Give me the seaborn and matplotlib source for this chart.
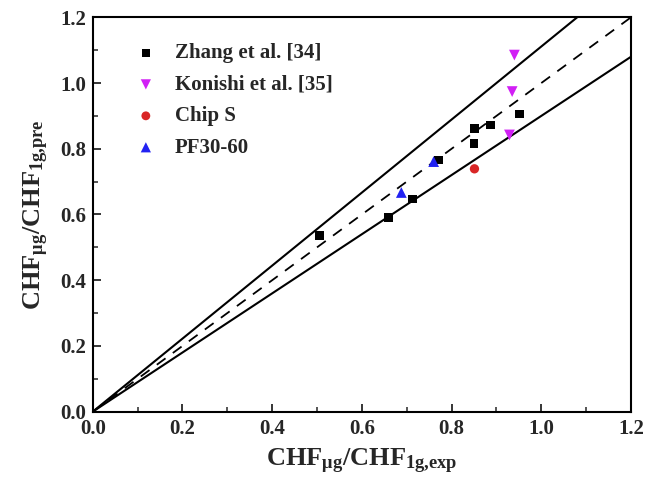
import numpy as np
import pandas as pd
import matplotlib
matplotlib.use("Agg")
import matplotlib.pyplot as plt
from matplotlib.ticker import MultipleLocator
import seaborn as sns

# Data
zhang_x = [0.506, 0.659, 0.713, 0.771, 0.850, 0.851, 0.886, 0.951]
zhang_y = [0.537, 0.590, 0.647, 0.766, 0.815, 0.862, 0.872, 0.906]
konishi_x = [0.940, 0.935, 0.929]
konishi_y = [1.085, 0.974, 0.842]
chip_x = [0.851]
chip_y = [0.739]
pf_x = [0.760, 0.688]
pf_y = [0.761, 0.667]
series_names = ["Zhang et al. [34]", "Konishi et al. [35]", "Chip S", "PF30-60"]

df = pd.DataFrame({
    "x": zhang_x + konishi_x + chip_x + pf_x,
    "y": zhang_y + konishi_y + chip_y + pf_y,
    "series": [series_names[0]] * len(zhang_x) + [series_names[1]] * len(konishi_x)
              + [series_names[2]] * len(chip_x) + [series_names[3]] * len(pf_x),
})

sns.set_theme(style="white")
plt.rcParams['font.family'] = ['Liberation Serif', 'DejaVu Serif']
plt.rcParams['font.weight'] = 'bold'
plt.rcParams['mathtext.fontset'] = 'custom'
plt.rcParams['mathtext.rm'] = 'Liberation Serif:bold'
plt.rcParams['mathtext.it'] = 'Liberation Serif:bold'
plt.rcParams['mathtext.bf'] = 'Liberation Serif:bold'

fig = plt.figure(figsize=(6.47, 4.9), dpi=100)
ax = fig.add_axes([0.1433, 0.1598, 0.8320, 0.8049])

# reference lines
lx = np.array([0.0, 1.2])
ax.plot(lx, lx / 0.9, color='black', lw=1.5, zorder=1)
ax.plot(lx, lx * 0.9, color='black', lw=1.5, zorder=1)
ax.plot(lx, lx, color='black', lw=1.3, ls=(0, (6, 5)), zorder=1)

palette = {series_names[0]: 'black', series_names[1]: '#D11FF5',
           series_names[2]: '#D92626', series_names[3]: '#2222F2'}
markers = {series_names[0]: 's', series_names[1]: 'v',
           series_names[2]: 'o', series_names[3]: '^'}
sizes = {series_names[0]: 40, series_names[1]: 60, series_names[2]: 45, series_names[3]: 60}
for name in series_names:
    sub = df[df["series"] == name]
    sns.scatterplot(data=sub, x="x", y="y", color=palette[name], marker=markers[name],
                    s=sizes[name], edgecolor='none', label=name, ax=ax, zorder=3)

ax.set_xlim(0, 1.2)
ax.set_ylim(0, 1.2)
ax.xaxis.set_major_locator(MultipleLocator(0.2))
ax.yaxis.set_major_locator(MultipleLocator(0.2))
ax.xaxis.set_minor_locator(MultipleLocator(0.1))
ax.yaxis.set_minor_locator(MultipleLocator(0.1))
ax.tick_params(which='major', direction='in', length=6, width=1.3, labelsize=15,
               bottom=True, left=True, top=False, right=False, pad=5)
ax.tick_params(which='minor', direction='in', length=3.5, width=1.1,
               bottom=True, left=True, top=False, right=False)
ax.xaxis.set_major_formatter(matplotlib.ticker.FormatStrFormatter('%.1f'))
ax.yaxis.set_major_formatter(matplotlib.ticker.FormatStrFormatter('%.1f'))
for lab in ax.get_xticklabels() + ax.get_yticklabels():
    lab.set_fontweight('bold')
for sp in ax.spines.values():
    sp.set_color('black')
    sp.set_linewidth(1.5)

ax.set_xlabel(r'$\mathrm{CHF}_{\mathrm{μg}}/\mathrm{CHF}_{\mathrm{1g{,}exp}}$', fontsize=19, labelpad=6)
ax.set_ylabel(r'$\mathrm{CHF}_{\mathrm{μg}}/\mathrm{CHF}_{\mathrm{1g{,}pre}}$', fontsize=19, labelpad=6)

leg = ax.legend(loc='upper left', bbox_to_anchor=(0.06, 0.955), frameon=False,
                prop={'family': 'Liberation Serif', 'weight': 'bold', 'size': 15},
                handlelength=1.2, handletextpad=0.8, labelspacing=0.55, borderaxespad=0)
for h, name in zip(leg.legend_handles, series_names):
    h.set_sizes([sizes[name] * 0.9])

fig.savefig('out.png', dpi=100)
